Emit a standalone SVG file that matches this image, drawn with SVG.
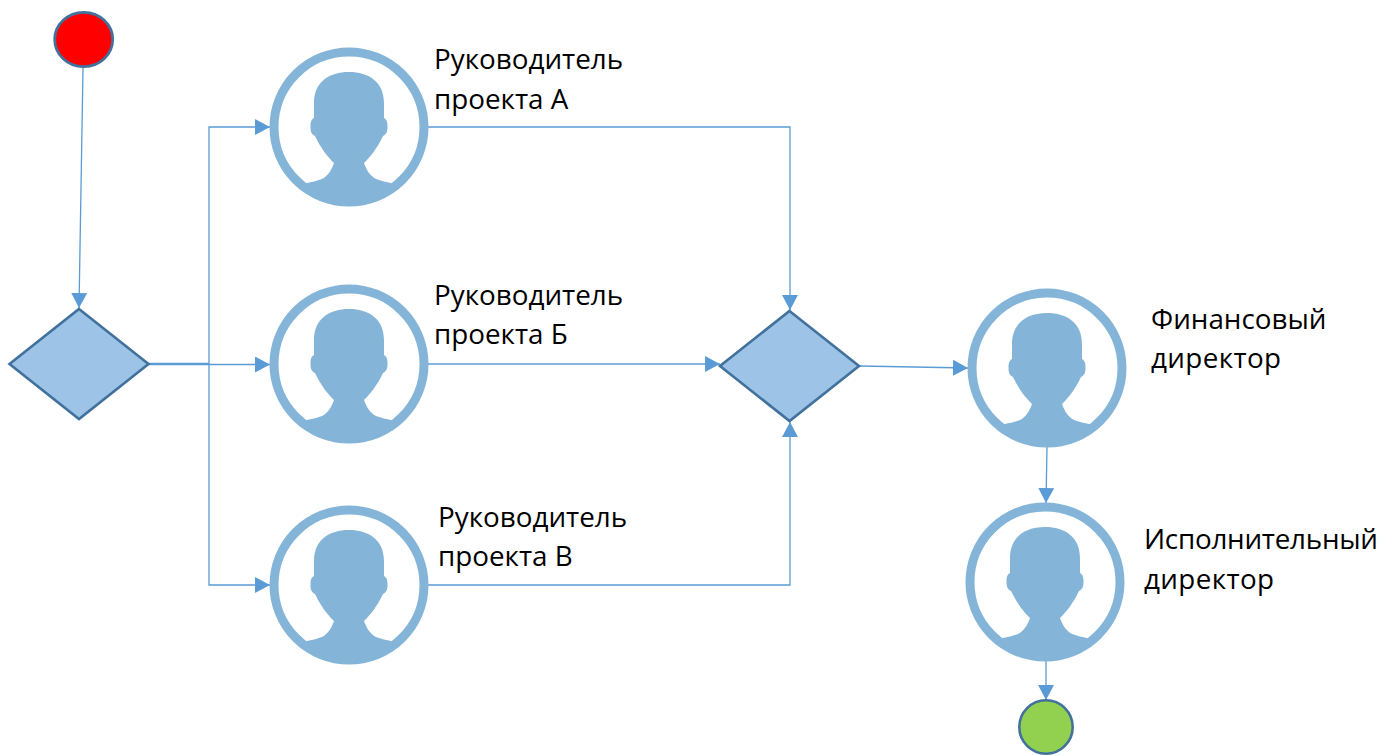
<svg xmlns="http://www.w3.org/2000/svg" width="1397" height="755" viewBox="0 0 1397 755">
<style>
.c{fill:none;stroke:#5b9bd5;stroke-width:1.3}
.t{font-family:"Open Sans","Noto Sans",sans-serif;font-size:27.8px;fill:#000}
.d{fill:#9dc3e6;stroke:#41719c;stroke-width:2.6}
.r{fill:#fff;stroke:#84b5d8;stroke-width:9}
.s{fill:#84b5d8}
</style>
<defs>
<marker id="a" markerUnits="userSpaceOnUse" markerWidth="16" markerHeight="16" refX="15" refY="8" orient="auto"><path d="M0 0L15 8L0 16Z" fill="#5b9bd5"/></marker>
<g id="p"><circle class="r" r="75"/><path class="s" d="M-15 36C-22 29-27 23-34 9C-38 7-38.500 4-38.500 -1C-38.500 -6-37-8-35-9L-35 -24C-35 -45-20-55 0-55C20-55 35-45 35-24L35 -9C37 -8 38.500 -6 38.500 -1C38.500 4 38 7 34 9C27 23 22 29 15 36C17 42 21 49 27 52C32 54 38 55 42 56L48 60A76.800 76.800 0 0 1-48 60L-42 56C-38 55-32 54-27 52C-21 49-17 42-15 36Z"/></g>
</defs>
<g id="connectors">
<path class="c" d="M83 68L79 308" marker-end="url(#a)"/>
<path class="c" d="M149 364.500H270" marker-end="url(#a)"/>
<path class="c" d="M149 363.500H209V127H270" marker-end="url(#a)"/>
<path class="c" d="M209 364V585H270" marker-end="url(#a)"/>
<path class="c" d="M428 127H790V310" marker-end="url(#a)"/>
<path class="c" d="M428 364H720" marker-end="url(#a)"/>
<path class="c" d="M428 585H790V422" marker-end="url(#a)"/>
<path class="c" d="M860 366L968 368" marker-end="url(#a)"/>
<path class="c" d="M1047 447L1046 503" marker-end="url(#a)"/>
<path class="c" d="M1046 661V700" marker-end="url(#a)"/>
</g>
<g id="start"><ellipse cx="83.700" cy="39.500" rx="29" ry="27.200" fill="#f00" stroke="#41719c" stroke-width="2.800"/></g>
<g id="gate1"><path class="d" d="M79 309L148.500 364L79 419L9.500 364Z"/></g>
<g id="gate2"><path class="d" d="M789.500 311L859 366L789.500 421L720 366Z"/></g>
<g id="node-a"><use href="#p" x="349" y="127"/><text class="t" x="434" y="69">Руководитель</text><text class="t" x="434" y="109">проекта А</text></g>
<g id="node-b"><use href="#p" x="349" y="364"/><text class="t" x="434" y="305">Руководитель</text><text class="t" x="434" y="344">проекта Б</text></g>
<g id="node-c"><use href="#p" x="349" y="585"/><text class="t" x="438" y="527">Руководитель</text><text class="t" x="438" y="566">проекта В</text></g>
<g id="node-fin"><use href="#p" x="1047" y="368"/><text class="t" x="1151" y="329">Финансовый</text><text class="t" x="1151" y="368" textLength="130">директор</text></g>
<g id="node-exec"><use href="#p" x="1045" y="582"/><text class="t" x="1144" y="549" textLength="234">Исполнительный</text><text class="t" x="1144" y="589" textLength="130">директор</text></g>
<g id="end"><circle cx="1046" cy="727" r="26.700" fill="#92d050" stroke="#41719c" stroke-width="2.600"/></g>
</svg>
